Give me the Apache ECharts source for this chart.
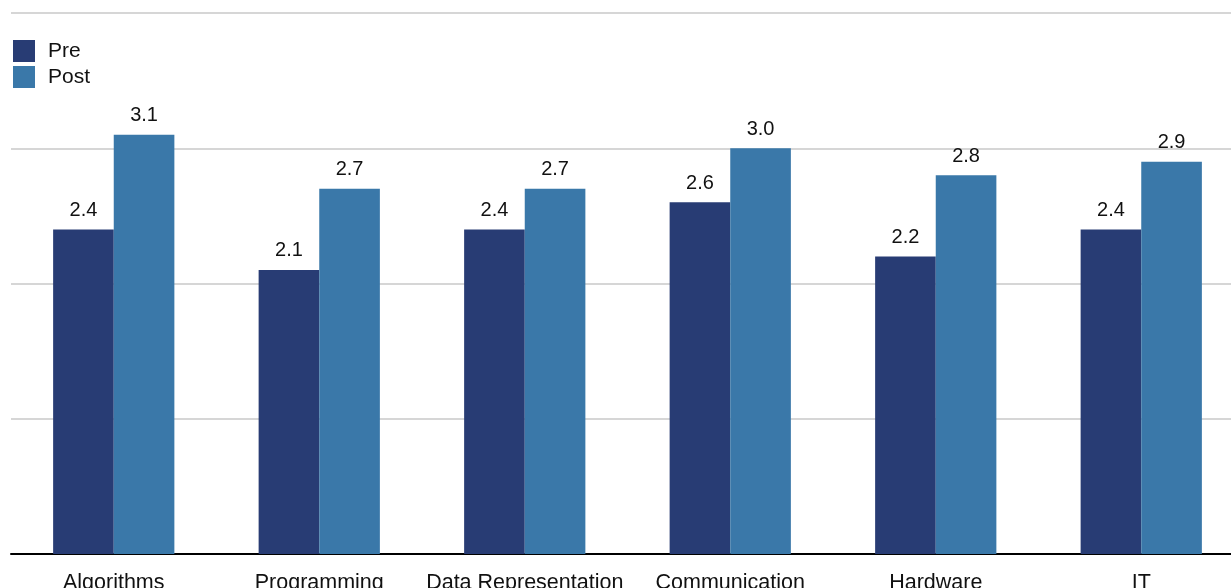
<!DOCTYPE html>
<html>
<head>
<meta charset="utf-8">
<script src="https://cdn.jsdelivr.net/npm/echarts@6/dist/echarts.min.js"></script>
<style>
  html, body { margin: 0; padding: 0; background: #fff; }
  #chart { width: 1231px; height: 588px; }
</style>
</head>
<body>
<div id="chart"></div>
<script>
// Topic categories along the x axis
const categories = ['Algorithms', 'Programming', 'Data Representation', 'Communication', 'Hardware', 'IT'];
// Mean scores before and after
const preValues = [2.4, 2.1, 2.4, 2.6, 2.2, 2.4];
const postValues = [3.1, 2.7, 2.7, 3.0, 2.8, 2.9];
const seriesNames = ['Pre', 'Post'];

const FONT = '"Liberation Sans", Arial, Helvetica, sans-serif';

const chart = echarts.init(document.getElementById('chart'), null, { renderer: 'canvas' });

const valueLabel = {
  show: true,
  position: 'top',
  distance: 9,
  color: '#111',
  fontFamily: FONT,
  fontSize: 20,
  formatter: p => p.value.toFixed(1)
};

chart.setOption({
  animation: false,
  backgroundColor: '#ffffff',
  color: ['#283c74', '#3a78a9'],
  legend: {
    orient: 'vertical',
    left: 13,
    top: 40,
    itemWidth: 22,
    itemHeight: 22,
    itemGap: 4,
    padding: 0,
    icon: 'rect',
    data: seriesNames,
    textStyle: {
      fontFamily: FONT,
      fontSize: 21,
      color: '#111',
      padding: [0, 0, 0, 8]
    }
  },
  grid: {
    left: 11,
    right: -13,
    top: 13,
    bottom: 34,
    containLabel: false,
    outerBoundsMode: 'none'
  },
  xAxis: {
    type: 'category',
    data: categories,
    axisLine: { show: true, lineStyle: { color: '#000', width: 2 } },
    axisTick: { show: false },
    axisLabel: {
      interval: 0,
      margin: 18,
      color: '#111',
      fontFamily: FONT,
      fontSize: 21.5
    }
  },
  yAxis: {
    type: 'value',
    min: 0,
    max: 4,
    interval: 1,
    axisLine: { show: false },
    axisTick: { show: false },
    axisLabel: { show: false },
    splitLine: { show: true, lineStyle: { color: '#d6d6d6', width: 2 } }
  },
  series: [
    {
      name: seriesNames[0],
      type: 'bar',
      data: preValues,
      barGap: '0%',
      barCategoryGap: '41%',
      label: valueLabel
    },
    {
      name: seriesNames[1],
      type: 'bar',
      data: postValues,
      barGap: '0%',
      barCategoryGap: '41%',
      label: valueLabel
    }
  ]
});
</script>
</body>
</html>
